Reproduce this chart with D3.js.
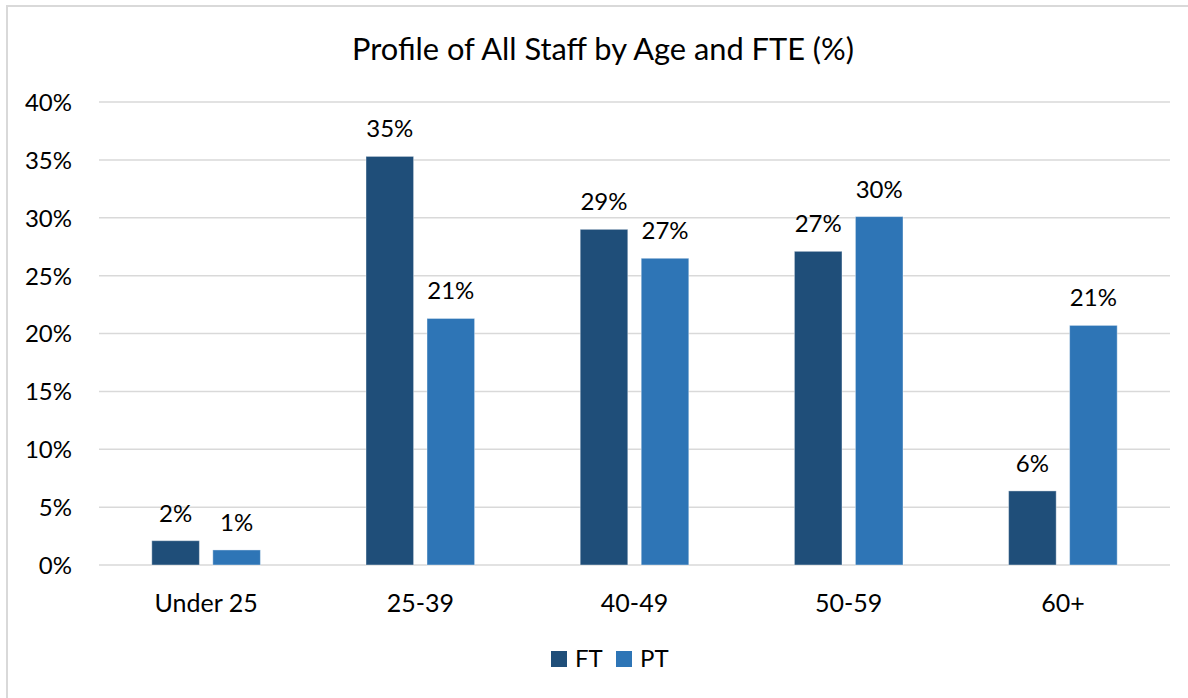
<!DOCTYPE html>
<html>
<head>
<meta charset="utf-8">
<script src="https://cdn.jsdelivr.net/npm/d3@7"></script>
<style>
  body { margin: 0; background: #fff; }
  text { font-family: Lato, "Open Sans", sans-serif; fill: #000; }
</style>
</head>
<body>
<script>
var width = 1188,
    height = 698;

// chart data
var categories = ["Under 25", "25-39", "40-49", "50-59", "60+"];
var seriesNames = ["FT", "PT"];
var ftValues = [2.1, 35.3, 29.0, 27.1, 6.4];
var ptValues = [1.3, 21.3, 26.5, 30.1, 20.7];
var yTicks = [0, 5, 10, 15, 20, 25, 30, 35, 40];
var colors = ["#1F4E79", "#2E75B6"];

var plot = {left: 99, right: 1170, top: 102, bottom: 565};

var svg = d3.select("body").append("svg")
    .attr("width", width)
    .attr("height", height);

svg.append("rect").attr("width", width).attr("height", height).attr("fill", "#fff");

// chart frame (only left and top edges are visible)
svg.append("path")
    .attr("d", "M7," + height + "V6H" + width)
    .attr("fill", "none")
    .attr("stroke", "#d9d9d9")
    .attr("stroke-width", 2);

var x0 = d3.scaleBand()
    .domain(categories)
    .range([plot.left, plot.right]);

var x1 = d3.scaleBand()
    .domain(seriesNames)
    .range([52.8, x0.bandwidth() - 52.8])
    .paddingInner(0.22);

var y = d3.scaleLinear()
    .domain([0, 40])
    .range([plot.bottom, plot.top]);

// gridlines
svg.append("g")
    .selectAll("line")
    .data(yTicks)
    .join("line")
    .attr("x1", plot.left)
    .attr("x2", plot.right)
    .attr("y1", function(d) { return y(d); })
    .attr("y2", function(d) { return y(d); })
    .attr("stroke", "#d9d9d9")
    .attr("stroke-width", 1.5);

// y axis labels
var yAxis = svg.append("g")
    .attr("transform", "translate(" + (plot.left - 27) + ",0)")
    .call(d3.axisLeft(y).tickValues(yTicks).tickSize(0).tickFormat(function(d) { return d + "%"; }));
yAxis.select(".domain").remove();
yAxis.selectAll("text")
    .attr("x", 0)
    .attr("dy", "0.35em")
    .style("font-family", "Lato, sans-serif")
    .style("font-size", "24px")
    .attr("fill", "#000");

// x axis labels
var xAxis = svg.append("g")
    .attr("transform", "translate(0," + plot.bottom + ")")
    .call(d3.axisBottom(x0).tickSize(0));
xAxis.select(".domain").remove();
xAxis.selectAll("text")
    .attr("y", 47)
    .attr("dy", 0)
    .style("font-family", "Lato, sans-serif")
    .style("font-size", "25px")
    .attr("fill", "#000");

var rows = categories.map(function(c, i) {
    return {cat: c, values: [ftValues[i], ptValues[i]]};
});

var groups = svg.append("g")
    .selectAll("g")
    .data(rows)
    .join("g")
    .attr("transform", function(d) { return "translate(" + x0(d.cat) + ",0)"; });

groups.selectAll("rect")
    .data(function(d) { return d.values.map(function(v, j) { return {s: seriesNames[j], v: v, j: j}; }); })
    .join("rect")
    .attr("x", function(d) { return x1(d.s); })
    .attr("width", x1.bandwidth())
    .attr("y", function(d) { return y(d.v); })
    .attr("height", function(d) { return y(0) - y(d.v); })
    .attr("fill", function(d) { return colors[d.j]; })
    .attr("stroke", "#ffffff")
    .attr("stroke-opacity", 0.4)
    .attr("stroke-width", 1);

groups.selectAll("text")
    .data(function(d) { return d.values.map(function(v, j) { return {s: seriesNames[j], v: v}; }); })
    .join("text")
    .attr("x", function(d) { return x1(d.s) + x1.bandwidth() / 2; })
    .attr("y", function(d) { return y(d.v) - 19; })
    .attr("text-anchor", "middle")
    .style("font-size", "24px")
    .text(function(d) { return Math.round(d.v) + "%"; });

// title
svg.append("text")
    .attr("x", 603)
    .attr("y", 60)
    .attr("text-anchor", "middle")
    .style("font-size", "30.8px")
    .text("Profile of All Staff by Age and FTE (%)");

// legend
var legendX = [551, 616];
var legend = svg.append("g")
    .selectAll("g")
    .data(seriesNames)
    .join("g")
    .attr("transform", function(d, i) { return "translate(" + legendX[i] + ",651)"; });
legend.append("rect")
    .attr("width", 16)
    .attr("height", 16)
    .attr("fill", function(d, i) { return colors[i]; });
legend.append("text")
    .attr("x", 24)
    .attr("y", 16)
    .style("font-size", "24px")
    .text(function(d) { return d; });
</script>
</body>
</html>
